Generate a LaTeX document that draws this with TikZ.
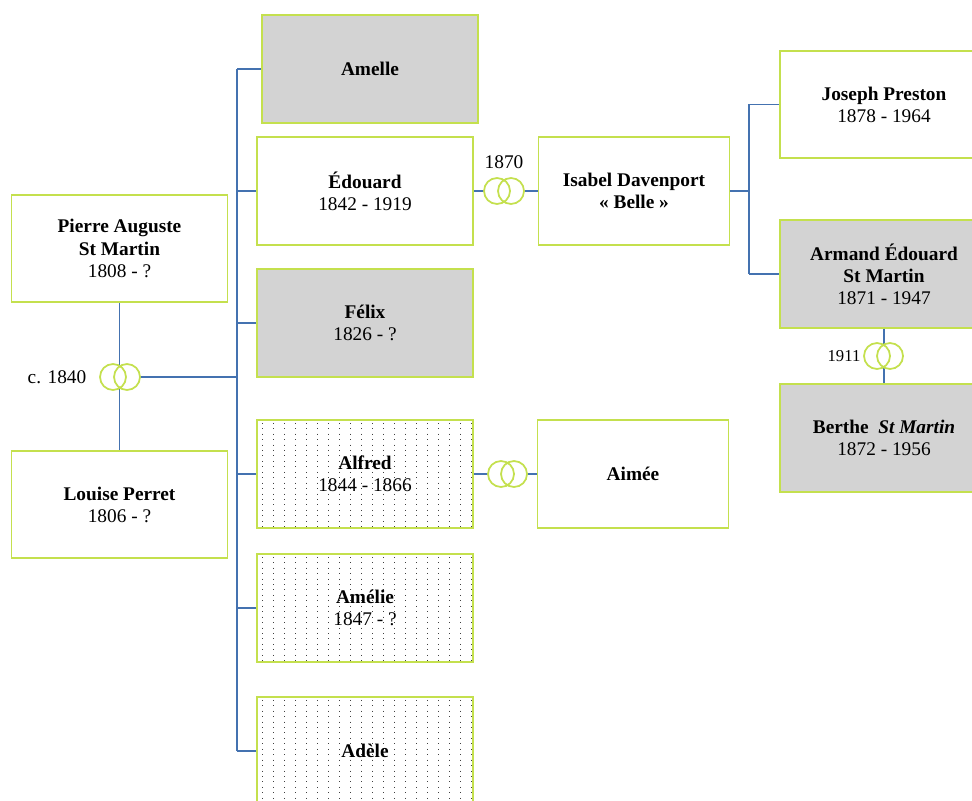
\documentclass[tikz,border=0pt]{standalone}
\usepackage{fontspec}
\setmainfont{Liberation Serif}
\begin{document}
\definecolor{lime}{RGB}{196,224,78}
\definecolor{linkblue}{RGB}{68,114,176}
\definecolor{boxgray}{RGB}{211,211,211}
\begin{tikzpicture}[x=0.02cm,y=-0.02cm,
  font=\fontsize{11}{12.6}\selectfont,
  person/.style={draw=lime,line width=0.9pt,rectangle,align=center,inner sep=0pt,
    minimum width=4.32cm,minimum height=2.15cm},
  narrow/.style={minimum width=3.82cm},
  shaded/.style={fill=boxgray},
  dotted box/.style={path picture={
    \foreach \i in {0,...,19}
      \draw[black!75,line width=0.55pt,dash pattern=on 0.55pt off 2.55pt]
        ([xshift=0.1cm+\i*0.22cm,yshift=-0.05cm]path picture bounding box.north west) --
        ([xshift=0.1cm+\i*0.22cm]path picture bounding box.south west);
  }},
  ring/.style={circle,minimum size=0.52cm,inner sep=0pt},
  ring line/.style={draw=lime,line width=1pt},
  link/.style={draw=linkblue,line width=0.85pt},
  thick link/.style={draw=linkblue,line width=1.3pt},
  year/.style={inner sep=0pt}]
\useasboundingbox (0,0) rectangle (972,800);
\clip (0,0) rectangle (972,800);

% parents
\node[person] (pierre) at (119.5,248.5) {\textbf{Pierre Auguste}\\\textbf{St Martin}\\1808 - ?};
\node[person] (louise) at (119.5,504.5) {\textbf{Louise Perret}\\1806 - ?};

% children
\node[person,shaded] (amelle) at (370,69) {\textbf{Amelle}};
\node[person] (edouard) at (365,191) {\textbf{Édouard}\\1842 - 1919};
\node[person,shaded] (felix) at (365,323) {\textbf{Félix}\\1826 - ?};
\node[person,dotted box] (alfred) at (365,474) {\textbf{Alfred}\\1844 - 1866};
\node[person,dotted box] (amelie) at (365,608) {\textbf{Amélie}\\1847 - ?};
\node[person,dotted box] (adele) at (365,751) {\textbf{Adèle}};

% spouses of the children
\node[person,narrow] (isabel) at (634,191) {\textbf{Isabel Davenport}\\\textbf{« Belle »}};
\node[person,narrow] (aimee) at (633,474) {\textbf{Aimée}};

% grandchildren
\node[person,minimum width=4.16cm] (joseph) at (884,104.5) {\textbf{Joseph Preston}\\1878 - 1964};
\node[person,shaded,minimum width=4.16cm] (armand) at (884,274) {\textbf{Armand Édouard}\\\textbf{St Martin}\\1871 - 1947};
\node[person,shaded,minimum width=4.16cm] (berthe) at (884,438) {\textbf{Berthe \ \textit{St Martin}}\\1872 - 1956};

% marriage rings (two interlaced circles per couple)
\node[ring] (m1a) at (113,377) {};
\node[ring] (m1b) at (127,377) {};
\node[ring] (m2a) at (497,191) {};
\node[ring] (m2b) at (511,191) {};
\node[ring] (m3a) at (501,474) {};
\node[ring] (m3b) at (514,474) {};
\node[ring] (m4a) at (877,356) {};
\node[ring] (m4b) at (890,356) {};

% marriage years
\node[year] (y1) at (57,377) {c. 1840};
\node[year] (y2) at (504,162) {1870};
\node[year,font=\fontsize{9.5}{11}\selectfont] (y3) at (844,356) {1911};

% couple links
\draw[link] (pierre.south) -- (louise.north);
\draw[link] (armand.south) -- (berthe.north);

% children of Pierre and Louise
\coordinate (trunk) at (237,377);
\draw[thick link] (m1b.east) -- (trunk);
\draw[link] (trunk |- amelle.west) -- (trunk |- adele.west);
\foreach \c in {amelle,edouard,felix,alfred,amelie,adele}
  \draw[link] (trunk |- \c.west) -- (\c.west);

% Edouard and Isabel
\draw[link] (edouard.east) -- (m2a.west);
\draw[link] (m2b.east) -- (isabel.west);

% Alfred and Aimee
\draw[link] (alfred.east) -- (m3a.west);
\draw[link] (m3b.east) -- (aimee.west);

% children of Edouard and Isabel
\coordinate (fork) at (749,191);
\draw[link] (isabel.east) -- (fork);
\draw[link] (fork |- joseph.west) -- (fork |- armand.west);
\draw[link] (fork |- joseph.west) -- (joseph.west);
\draw[link] (fork |- armand.west) -- (armand.west);

% ring outlines on top of the links
\foreach \a/\b in {m1a/m1b,m2a/m2b,m3a/m3b,m4a/m4b}{
  \fill[white] (\a) circle (0.26cm) (\b) circle (0.26cm);
  \draw[ring line] (\a) circle (0.26cm) (\b) circle (0.26cm);
}
\end{tikzpicture}
\end{document}
